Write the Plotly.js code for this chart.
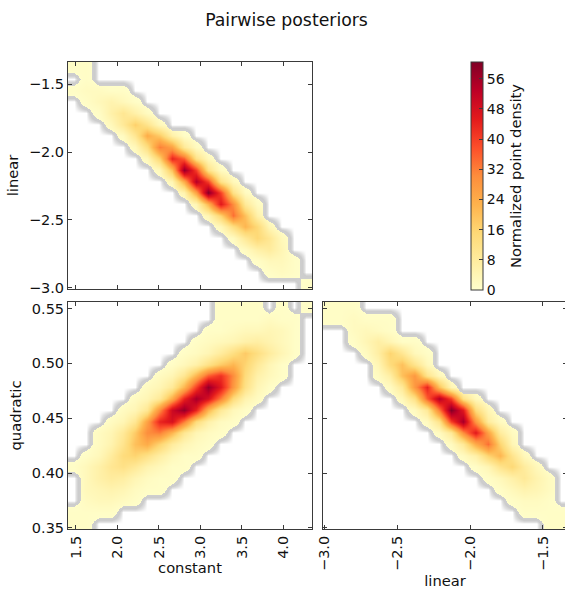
<!DOCTYPE html>
<html>
<head>
<meta charset="utf-8">
<script src="https://cdn.plot.ly/plotly-3.0.1.min.js"></script>
<style>
html,body{margin:0;padding:0;overflow:hidden;background:#fff;}
#chart{width:567px;height:591px;}
</style>
</head>
<body>
<div id="chart"></div>
<script>
// ---------------- data ----------------
const constantRange = [1.404, 4.346];
const linearRange = [-3.01, -1.335];
const quadraticRange = [0.349, 0.556];
const nBins = 20;

const constantTicks = [1.5, 2.0, 2.5, 3.0, 3.5, 4.0];
const linearTicks = [-3.0, -2.5, -2.0, -1.5];
const quadraticTicks = [0.35, 0.40, 0.45, 0.50, 0.55];
const densityTicks = [0, 8, 16, 24, 32, 40, 48, 56];
const densityMax = 60.4;

// 2D histogram rows, listed from top row to bottom row: [firstColumn, values...]
const constantLinearRows = [
  [0, 1, 1],
  [0, 0, 1],
  [0, 1, 2, 2, 1, 1],
  [1, 1, 3, 5, 3, 1],
  [2, 1, 6, 10, 6, 2],
  [3, 3, 9, 17, 11, 3],
  [4, 2, 10, 24, 18, 6, 1],
  [5, 3, 13, 32, 26, 9, 2],
  [6, 3, 16, 44, 36, 12, 3],
  [7, 3, 20, 58, 40, 12, 2],
  [8, 4, 24, 54, 40, 12, 3],
  [9, 5, 26, 60, 40, 12, 2],
  [10, 4, 22, 46, 30, 9, 2],
  [11, 4, 16, 34, 20, 6],
  [12, 3, 13, 22, 15, 4],
  [13, 2, 9, 15, 10, 3],
  [14, 2, 6, 8, 4],
  [15, 1, 3, 3, 1],
  [16, 1, 2, 1],
  [19, 1]
];

const constantQuadraticRows = [
  [12, 1, 1, 1, 1, 0, 1, 0, 1],
  [12, 1, 1, 1, 1, 2, 1, 1],
  [11, 1, 1, 2, 3, 3, 4, 3, 1],
  [10, 1, 2, 3, 4, 6, 7, 5, 3, 1],
  [9, 1, 2, 4, 8, 13, 18, 13, 8, 4, 1],
  [8, 1, 3, 6, 12, 18, 22, 16, 9, 4, 1],
  [7, 2, 4, 10, 22, 36, 42, 30, 14, 6, 3, 1],
  [6, 2, 4, 9, 22, 40, 58, 46, 28, 12, 4, 1],
  [5, 2, 4, 9, 24, 44, 56, 48, 32, 14, 5, 2],
  [4, 2, 4, 10, 30, 50, 58, 44, 22, 9, 3, 1],
  [3, 2, 4, 10, 26, 44, 48, 32, 14, 6, 2, 1],
  [2, 2, 4, 9, 18, 30, 32, 22, 10, 4, 2, 1],
  [2, 2, 5, 11, 20, 24, 16, 8, 4, 2, 1],
  [1, 1, 3, 8, 14, 16, 12, 7, 3, 1, 1],
  [0, 1, 3, 6, 10, 12, 9, 5, 3, 1, 1],
  [0, 0, 3, 6, 8, 7, 4, 2, 1, 1],
  [0, 0, 3, 4, 5, 4, 2, 1, 1],
  [0, 0, 2, 3, 3, 2, 1],
  [0, 1, 1, 1, 1],
  [0, 1, 1]
];

const linearQuadraticRows = [
  [0, 1, 1, 1],
  [0, 1, 1, 2, 1, 1, 1],
  [2, 2, 3, 2, 1],
  [2, 1, 4, 7, 4, 1, 1],
  [3, 2, 7, 16, 10, 3, 1],
  [4, 4, 14, 20, 11, 3],
  [4, 2, 7, 20, 28, 11, 3],
  [5, 2, 9, 28, 44, 20, 4],
  [6, 3, 12, 36, 54, 40, 12, 3],
  [7, 2, 9, 32, 60, 46, 14, 4],
  [8, 2, 11, 40, 56, 28, 8, 2],
  [9, 2, 9, 30, 46, 26, 8, 2],
  [10, 2, 9, 24, 34, 16, 4],
  [11, 2, 6, 16, 22, 11, 3],
  [12, 1, 4, 11, 15, 8, 3],
  [13, 1, 3, 6, 9, 5, 2],
  [14, 1, 3, 5, 4, 2],
  [15, 1, 2, 2, 1],
  [16, 1, 1, 1, 1],
  [18, 1, 1]
];

// ---------------- build grids ----------------
function toGrid(rows) {
  const z = [];
  for (let j = 0; j < nBins; j++) z.push(new Array(nBins).fill(0));
  rows.forEach((row, r) => {
    const j = nBins - 1 - r;           // row index from bottom
    const start = row[0];
    for (let k = 1; k < row.length; k++) z[j][start + k - 1] = row[k];
  });
  return z;
}
function toMask(z) { return z.map(row => row.map(v => (v > 0 ? 1 : 0))); }

const ylorrd = [
  [0, '#ffffcc'], [0.125, '#ffeda0'], [0.25, '#fed976'], [0.375, '#feb24c'],
  [0.5, '#fd8d3c'], [0.625, '#fc4e2a'], [0.75, '#e31a1c'], [0.875, '#bd0026'], [1, '#800026']
];
const haloScale = [
  [0, 'rgb(255,255,255)'], [0.03, 'rgb(250,250,250)'], [0.15, 'rgb(224,224,224)'],
  [0.3, 'rgb(204,204,204)'], [0.5, 'rgb(206,206,206)'],
  [0.502, 'rgba(255,255,255,0)'], [1, 'rgba(255,255,255,0)']
];

const W = 567, H = 591;
const FONT = 'DejaVu Sans, Liberation Sans, sans-serif';
const FRAME = '#3a3a3a';

function panelTraces(rows, xr, yr, xa, ya, withBar) {
  const z = toGrid(rows);
  const dx = (xr[1] - xr[0]) / nBins, dy = (yr[1] - yr[0]) / nBins;
  const base = {
    type: 'heatmap', x0: xr[0] + dx / 2, dx: dx, y0: yr[0] + dy / 2, dy: dy,
    xaxis: xa, yaxis: ya, zsmooth: 'best', hoverinfo: 'skip'
  };
  const dens = Object.assign({}, base, {
    z: z, colorscale: ylorrd, zmin: 0, zmax: densityMax, showscale: !!withBar
  });
  if (withBar) {
    dens.colorbar = {
      x: 471 / W, xanchor: 'left', xpad: 0,
      y: 1 - 62 / H, yanchor: 'top', ypad: 0,
      len: 228 / H, lenmode: 'fraction',
      thickness: 12, thicknessmode: 'pixels',
      outlinewidth: 1, outlinecolor: FRAME, borderwidth: 0,
      tickmode: 'array', tickvals: densityTicks,
      ticks: 'inside', ticklen: 4, tickcolor: FRAME,
      tickfont: {family: FONT, size: 14, color: '#111'},
      title: {text: 'Normalized point density', side: 'right',
              font: {family: FONT, size: 14.7, color: '#111'}}
    };
  }
  const halo = Object.assign({}, base, {
    z: toMask(z), colorscale: haloScale, zmin: 0, zmax: 1, showscale: false
  });
  return [dens, halo];
}

const data = [].concat(
  panelTraces(constantLinearRows, constantRange, linearRange, 'x', 'y', true),
  panelTraces(constantQuadraticRows, constantRange, quadraticRange, 'x2', 'y2', false),
  panelTraces(linearQuadraticRows, linearRange, quadraticRange, 'x3', 'y3', false)
);

const dx = (a, b) => [a / W, b / W];
const dy = (top, bottom) => [1 - bottom / H, 1 - top / H];

function axis(extra) {
  return Object.assign({
    showgrid: false, zeroline: false, showline: true, mirror: 'ticks',
    linecolor: FRAME, linewidth: 1, ticks: 'inside', ticklen: 4, tickcolor: FRAME,
    tickmode: 'array', tickfont: {family: FONT, size: 14.5, color: '#111'},
    fixedrange: true
  }, extra);
}
const titleFont = {family: FONT, size: 14.7, color: '#111'};

const layout = {
  width: W, height: H,
  margin: {l: 0, r: 0, t: 0, b: 0},
  paper_bgcolor: '#fff', plot_bgcolor: '#fff',
  showlegend: false,
  font: {family: FONT, color: '#111'},
  title: {text: 'Pairwise posteriors', x: 286.5 / W, xanchor: 'center', xref: 'paper',
          y: 1 - 19.5 / H, yanchor: 'middle', yref: 'paper',
          font: {family: FONT, size: 17.3, color: '#111'}},
  xaxis: axis({domain: dx(68, 312), range: constantRange, anchor: 'y',
               tickvals: constantTicks, showticklabels: false}),
  yaxis: axis({domain: dy(62, 289), range: linearRange, anchor: 'x',
               tickvals: linearTicks, tickformat: '.1f',
               title: {text: 'linear', font: titleFont, standoff: 6}}),
  xaxis2: axis({domain: dx(68, 312), range: constantRange, anchor: 'y2',
                tickvals: constantTicks, tickformat: '.1f', tickangle: -90,
                title: {text: 'constant', font: titleFont, standoff: 4}}),
  yaxis2: axis({domain: dy(302, 529), range: quadraticRange, anchor: 'x2',
                tickvals: quadraticTicks, tickformat: '.2f',
                title: {text: 'quadratic', font: titleFont, standoff: 6}}),
  xaxis3: axis({domain: dx(323, 567), range: linearRange, anchor: 'y3',
                tickvals: linearTicks, tickformat: '.1f', tickangle: -90,
                title: {text: 'linear', font: titleFont, standoff: 5}}),
  yaxis3: axis({domain: dy(302, 529), range: quadraticRange, anchor: 'x3',
                tickvals: quadraticTicks, showticklabels: false})
};

Plotly.newPlot('chart', data, layout, {displayModeBar: false, staticPlot: true});
</script>
</body>
</html>
